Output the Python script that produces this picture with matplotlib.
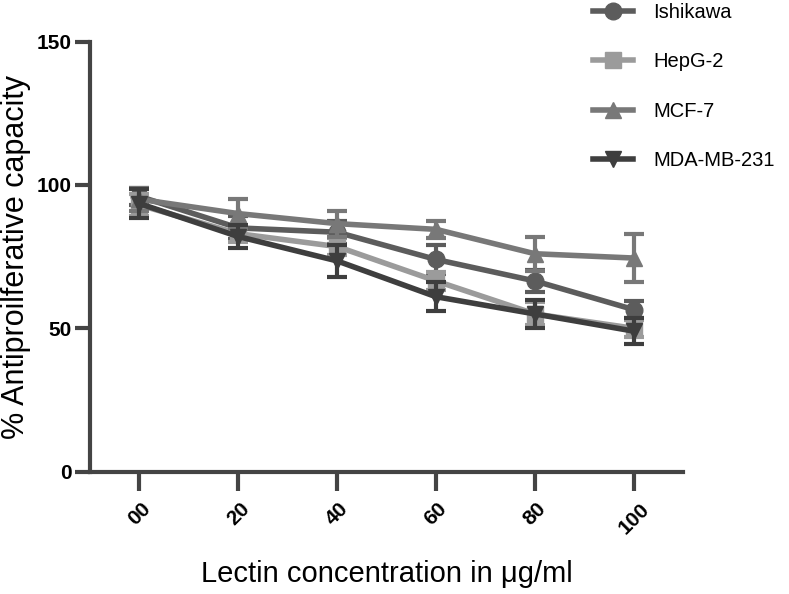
import matplotlib
matplotlib.use('Agg')
import matplotlib.pyplot as plt

plt.rcParams['font.family'] = ['Liberation Sans', 'DejaVu Sans']

# concentrations (ug/ml) shown as category labels
conc_labels = ['00', '20', '40', '60', '80', '100']

# % antiproliferative capacity
ishikawa = [96, 85, 83.5, 74, 66.5, 56.5]
ishikawa_err = [3, 4, 4, 5, 4, 3]
hepg2 = [93, 83, 78.5, 66.5, 55, 50]
hepg2_err = [4, 3, 3, 3, 4, 3]
mcf7 = [95, 90, 86.5, 84.5, 76, 74.5]
mcf7_err = [4, 5, 4.5, 3, 6, 8.3]
mdamb231 = [93.5, 82, 73.5, 61, 55, 49]
mdamb231_err = [5, 4, 5.5, 5, 5, 4.5]

series = [
    ('Ishikawa', ishikawa, ishikawa_err, '#5c5c5c', 'o'),
    ('HepG-2', hepg2, hepg2_err, '#9b9b9b', 's'),
    ('MCF-7', mcf7, mcf7_err, '#787878', '^'),
    ('MDA-MB-231', mdamb231, mdamb231_err, '#3e3e3e', 'v'),
]

fig = plt.figure(figsize=(7.89, 5.94), dpi=100)
ax = fig.add_axes([0.114, 0.206, 0.752, 0.724])

x = list(range(len(conc_labels)))
for name, vals, err, col, mk in series:
    ax.errorbar(x, vals, yerr=err, fmt='none', ecolor=col, elinewidth=3,
                capsize=7, capthick=3)
    ax.plot(x, vals, color=col, lw=4, marker=mk, markersize=12, label=name)

ax.set_xlim(-0.5, 5.5)
ax.set_ylim(0, 150)
ax.set_yticks([0, 50, 100, 150])
ax.set_xticks(x)
ax.set_xticklabels(conc_labels, rotation=45, fontweight='bold', fontsize=15)
for lab in ax.get_yticklabels():
    lab.set_fontweight('bold')
    lab.set_fontsize(15)

for s in ['top', 'right']:
    ax.spines[s].set_visible(False)
for s in ['left', 'bottom']:
    ax.spines[s].set_linewidth(3)
    ax.spines[s].set_color('#444444')
ax.tick_params(axis='both', width=3, color='#444444')
ax.tick_params(axis='x', length=14, pad=6)
ax.tick_params(axis='y', length=11, pad=2)

ax.set_ylabel('% Antiproilferative capacity', fontsize=22, labelpad=4)
ax.set_xlabel('Lectin concentration in \u03bcg/ml', fontsize=21, labelpad=16)

fig.legend(loc='upper left', bbox_to_anchor=(0.728, 1.025), frameon=False,
           fontsize=14.5, labelspacing=1.5, handlelength=2.0, handletextpad=1.0)

plt.savefig('out.png', dpi=100)
